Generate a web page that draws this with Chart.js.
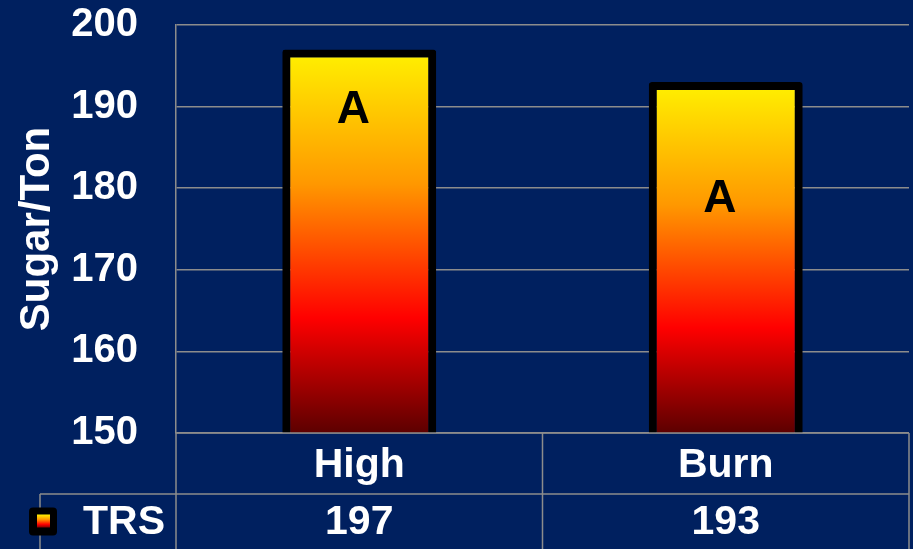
<!DOCTYPE html>
<html>
<head>
<meta charset="utf-8">
<script src="https://cdn.jsdelivr.net/npm/chart.js@4/dist/chart.umd.min.js"></script>
<style>
  html, body { margin: 0; padding: 0; background: #00205F; }
  #wrap { width: 913px; height: 549px; }
</style>
</head>
<body>
<div id="wrap"><canvas id="chart"></canvas></div>
<script>
// TRS sugar per ton by treatment
const categories = ["High", "Burn"];
const trsValues = [197, 193];
const letters = ["A", "A"];
const letterAt = [189.6, 178.6];   // value where each significance letter sits
const seriesName = "TRS";
const yMin = 150, yMax = 200, yStep = 10;

const FONT = "'Liberation Sans', Arial, sans-serif";
const GRID = "#8C8C8C";

// vertical fire gradient, yellow at the top of each bar down to dark red
function fireGradient(g, top, bottom) {
  const grad = g.createLinearGradient(0, top, 0, bottom);
  grad.addColorStop(0, "#FFF200");
  grad.addColorStop(0.35, "#FF9800");
  grad.addColorStop(0.7, "#FF0000");
  grad.addColorStop(1, "#5C0000");
  return grad;
}

// draws the "A" letters and the data table under the plot
const tablePlugin = {
  id: "dataTable",
  afterDatasetsDraw(chart) {
    const { ctx, scales } = chart;
    const x = scales.x, y = scales.y;
    ctx.save();
    ctx.fillStyle = "#000";
    ctx.font = "bold 46px " + FONT;
    ctx.textAlign = "center";
    ctx.textBaseline = "middle";
    letters.forEach((l, i) => {
      ctx.fillText(l, x.getPixelForValue(i) - 6, y.getPixelForValue(letterAt[i]));
    });
    ctx.restore();
  },
  afterDraw(chart) {
    const { ctx, chartArea } = chart;
    const x = chart.scales.x;
    const left = chartArea.left, right = chartArea.right;
    const row1 = chartArea.bottom, row2 = row1 + 61, end = chart.height;
    const mid = (x.getPixelForValue(0) + x.getPixelForValue(1)) / 2;
    const tableLeft = 40;

    ctx.save();
    ctx.strokeStyle = GRID;
    ctx.lineWidth = 1.5;
    ctx.beginPath();
    ctx.moveTo(left, row1); ctx.lineTo(right, row1);
    ctx.moveTo(tableLeft, row2); ctx.lineTo(right, row2);
    ctx.moveTo(left, row1); ctx.lineTo(left, end);
    ctx.moveTo(mid, row1); ctx.lineTo(mid, end);
    ctx.moveTo(right, row1); ctx.lineTo(right, end);
    ctx.moveTo(tableLeft, row2); ctx.lineTo(tableLeft, end);
    ctx.stroke();

    ctx.fillStyle = "#fff";
    ctx.font = "bold 41px " + FONT;
    ctx.textAlign = "center";
    ctx.textBaseline = "middle";
    categories.forEach((c, i) => {
      const cx = x.getPixelForValue(i);
      ctx.fillText(c, cx, (row1 + row2) / 2 + 2);
      ctx.fillText(String(trsValues[i]), cx, (row2 + end) / 2 + 1);
    });

    // legend key + series name
    const ky = (row2 + end) / 2;
    ctx.fillStyle = "#000";
    ctx.beginPath();
    ctx.roundRect(29, ky - 14, 28, 28, 4);
    ctx.fill();
    ctx.fillStyle = fireGradient(ctx, ky - 7, ky + 7);
    ctx.fillRect(37, ky - 7, 13, 13);
    ctx.fillStyle = "#fff";
    ctx.textAlign = "left";
    ctx.fillText(seriesName, 83, ky + 1);
    ctx.restore();
  }
};

new Chart(document.getElementById("chart"), {
  type: "bar",
  data: {
    labels: categories,
    datasets: [{
      label: seriesName,
      data: trsValues,
      backgroundColor(c) {
        const chart = c.chart;
        if (!chart.chartArea || c.raw === undefined) return "#FF9800";
        const y = chart.scales.y;
        return fireGradient(chart.ctx, y.getPixelForValue(c.raw), y.getPixelForValue(yMin));
      },
      borderColor: "#000",
      borderWidth: 8,
      borderSkipped: false,
      borderRadius: 3,
      barPercentage: 0.84,
      categoryPercentage: 0.5
    }]
  },
  options: {
    responsive: true,
    maintainAspectRatio: false,
    animation: false,
    layout: { padding: { top: 25, right: 4, bottom: 116, left: 0 } },
    plugins: {
      legend: { display: false },
      tooltip: { enabled: false }
    },
    scales: {
      x: {
        ticks: { display: false },
        grid: { display: false },
        border: { display: false },
        afterFit(s) { s.height = 0; }
      },
      y: {
        min: yMin,
        max: yMax,
        ticks: {
          stepSize: yStep,
          color: "#fff",
          padding: 38,
          font: { family: FONT, size: 40, weight: "bold" }
        },
        grid: { color: GRID, lineWidth: 1.5, drawTicks: false },
        border: { color: GRID, width: 1.5 },
        title: {
          display: true,
          text: "Sugar/Ton",
          color: "#fff",
          padding: { top: 12, bottom: 0 },
          font: { family: FONT, size: 42, weight: "bold" }
        },
        // fixed axis width; tick padding should not push the plot down
        afterFit(s) {
          s.width = 176;
          s.paddingTop = 0;
          s.paddingBottom = 0;
        }
      }
    }
  },
  plugins: [tablePlugin]
});
</script>
</body>
</html>
